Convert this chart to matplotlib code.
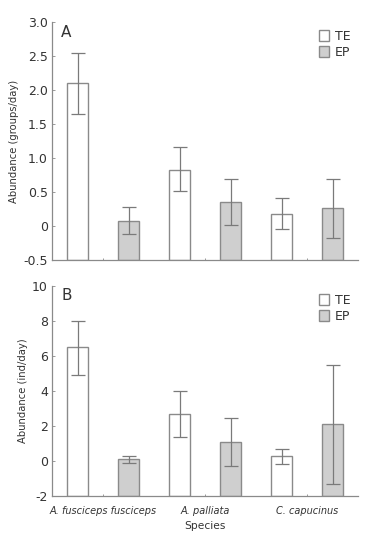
import numpy as np
import matplotlib
matplotlib.use('Agg')
from matplotlib import pyplot as plt
from matplotlib.patches import Patch

species = ['A. fusciceps fusciceps', 'A. palliata', 'C. capucinus']
groups = ['TE', 'EP']

# panel A: groups/day
a_te = [2.10, 0.83, 0.18]
a_te_lo = [1.65, 0.52, -0.04]
a_te_hi = [2.55, 1.16, 0.41]
a_ep = [0.08, 0.35, 0.26]
a_ep_lo = [-0.12, 0.02, -0.17]
a_ep_hi = [0.28, 0.69, 0.70]

# panel B: ind/day
b_te = [6.5, 2.7, 0.3]
b_te_lo = [4.9, 1.35, -0.15]
b_te_hi = [8.0, 4.0, 0.7]
b_ep = [0.1, 1.1, 2.1]
b_ep_lo = [-0.1, -0.3, -1.3]
b_ep_hi = [0.3, 2.45, 5.5]

TEXT = '#333333'
EDGE = '#8a8a8a'
ERR = '#7a7a7a'
FILL = '#cfcfcf'

plt.rcParams['font.family'] = ['DejaVu Sans']


def draw(ax, te, te_lo, te_hi, ep, ep_lo, ep_hi, ylim, yticks, yticklabels, ylabel, tag):
    base = ylim[0]
    x = np.arange(len(species)) * 2
    for off, vals, lo, hi, color in [(0, te, te_lo, te_hi, 'white'),
                                     (1, ep, ep_lo, ep_hi, FILL)]:
        vals = np.asarray(vals)
        pos = x + off
        ax.bar(pos, vals - base, bottom=base, width=0.4, color=color,
               edgecolor=EDGE, linewidth=1.0, zorder=2)
        yerr = [vals - np.asarray(lo), np.asarray(hi) - vals]
        ax.errorbar(pos, vals, yerr=yerr, fmt='none', ecolor=ERR,
                    elinewidth=0.9, capsize=5, capthick=0.9, zorder=3)
    ax.set_xlim(-0.5, 5.5)
    ax.set_ylim(*ylim)
    ax.set_yticks(yticks)
    ax.set_yticklabels(yticklabels)
    ax.set_xticks(x + 0.5)
    ax.set_xticklabels([])
    for s in ['top', 'right']:
        ax.spines[s].set_visible(False)
    for s in ['left', 'bottom']:
        ax.spines[s].set_color(EDGE)
        ax.spines[s].set_linewidth(0.9)
    ax.tick_params(axis='y', direction='in', length=2, width=0.6, colors=EDGE,
                   labelcolor=TEXT, labelsize=9, pad=3)
    ax.tick_params(axis='x', direction='in', length=1.5, width=0.6, colors=EDGE)
    ax.set_ylabel(ylabel, fontsize=7.2, color=TEXT, labelpad=3)
    ax.text(0.03, 0.99, tag, transform=ax.transAxes, fontsize=11,
            color=TEXT, va='top', ha='left')
    handles = [Patch(facecolor='white', edgecolor=EDGE, label=groups[0]),
               Patch(facecolor=FILL, edgecolor=EDGE, label=groups[1])]
    leg = ax.legend(handles=handles, loc='upper right', bbox_to_anchor=(1.0, 1.0),
                    frameon=False, fontsize=9, handlelength=0.75, handleheight=0.9,
                    handletextpad=0.5, labelspacing=0.25, borderaxespad=0.2)
    for t in leg.get_texts():
        t.set_color(TEXT)


fig = plt.figure(figsize=(3.75, 5.42), dpi=100)
ax1 = fig.add_axes([0.139, 0.520, 0.816, 0.439])
ax2 = fig.add_axes([0.139, 0.085, 0.816, 0.387])

draw(ax1, a_te, a_te_lo, a_te_hi, a_ep, a_ep_lo, a_ep_hi,
     (-0.5, 3.0), [-0.5, 0, 0.5, 1.0, 1.5, 2.0, 2.5, 3.0],
     ['-0.5', '0', '0.5', '1.0', '1.5', '2.0', '2.5', '3.0'],
     'Abundance (groups/day)', 'A')
draw(ax2, b_te, b_te_lo, b_te_hi, b_ep, b_ep_lo, b_ep_hi,
     (-2, 10), [-2, 0, 2, 4, 6, 8, 10],
     ['-2', '0', '2', '4', '6', '8', '10'],
     'Abundance (ind/day)', 'B')

ax2.set_xticklabels(species, fontsize=7, style='italic', color=TEXT)
ax2.tick_params(axis='x', pad=7)
ax2.set_xlabel('Species', fontsize=7.7, color=TEXT, labelpad=4)

fig.savefig('out.png', dpi=100)
